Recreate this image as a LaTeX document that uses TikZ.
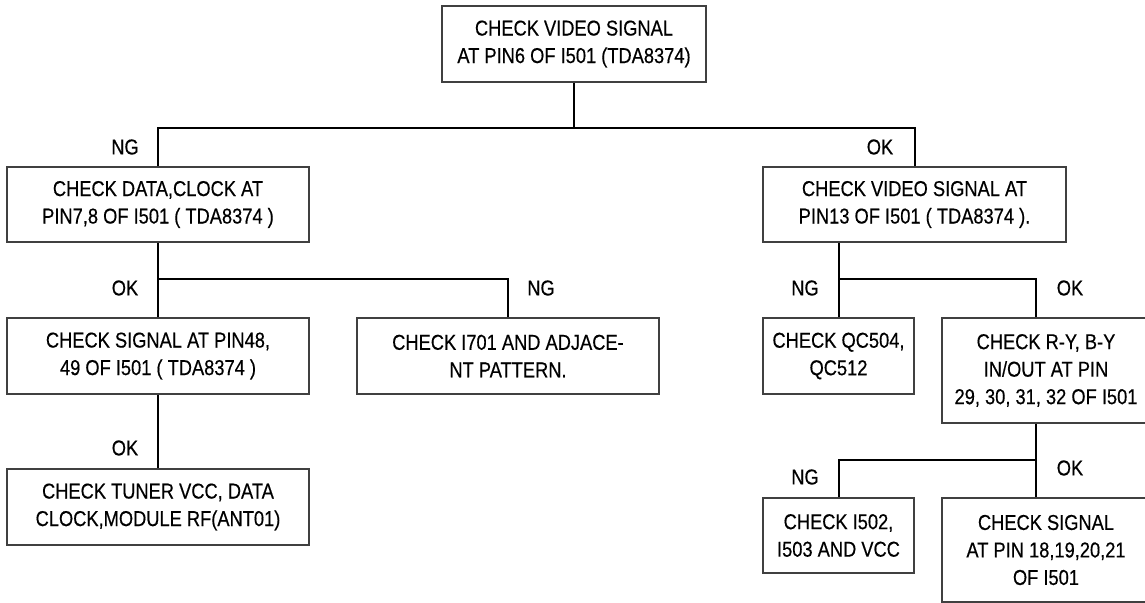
\documentclass[tikz,border=0pt]{standalone}
\usepackage{fontspec}
\setmainfont[FakeStretch=0.85,FakeBold=0.4]{Liberation Sans}
\usetikzlibrary{calc}
\tikzset{
  box/.style={draw=black!75, line width=1.3pt, rectangle, align=center, inner sep=0pt,
    font=\fontsize{21.5}{27.5}\selectfont},
  conn/.style={draw=black, line width=2pt},
  lbl/.style={inner sep=0pt, font=\fontsize{21.5}{25}\selectfont}
}
\begin{document}
\begin{tikzpicture}[x=1pt,y=-1pt]
\useasboundingbox[fill=white] (0,0) rectangle (1145,602);
% boxes
\node[box, minimum width=264pt, minimum height=76pt] (top) at (574,44) {CHECK VIDEO SIGNAL\\AT PIN6 OF I501 (TDA8374)};
\node[box, minimum width=302pt, minimum height=75pt] (b1) at (158,204.5) {CHECK DATA,CLOCK AT\\PIN7,8 OF I501 ( TDA8374 )};
\node[box, minimum width=303pt, minimum height=75pt] (b2) at (914.5,204.5) {CHECK VIDEO SIGNAL AT\\PIN13 OF I501 ( TDA8374 ).};
\node[box, minimum width=302pt, minimum height=76pt] (b3) at (158,356) {CHECK SIGNAL AT PIN48,\\49 OF I501 ( TDA8374 )};
\node[box, minimum width=302pt, minimum height=76pt] (b4) at (508,356) {CHECK I701 AND ADJACE-\\NT PATTERN.};
\node[box, minimum width=151pt, minimum height=76pt] (b5) at (838.5,356) {CHECK QC504,\\QC512};
\node[box, minimum width=208pt, minimum height=105pt] (b6) at (1046,370.5) {CHECK R-Y, B-Y\\IN/OUT AT PIN\\29, 30, 31, 32 OF I501};
\node[box, minimum width=302pt, minimum height=76pt] (b7) at (158,507) {CHECK TUNER VCC, DATA\\CLOCK,MODULE RF(ANT01)};
\node[box, minimum width=151pt, minimum height=75pt] (b8) at (838.5,535.5) {CHECK I502,\\I503 AND VCC};
\node[box, minimum width=208pt, minimum height=104pt] (b9) at (1046,550) {CHECK SIGNAL\\AT PIN 18,19,20,21\\OF I501};
% junctions
\coordinate (j1) at (574,128);
\coordinate (j2) at (158,279);
\coordinate (j3) at (839,279);
\coordinate (j4) at (1037,460);
% connectors
\draw[conn] (top.south) -- (j1);
\draw[conn] (b1.north) |- (j1);
\draw[conn] (b2.north) |- (j1);
\draw[conn] (b1.south) -- (b3.north);
\draw[conn] (j2) -| (b4.north);
\draw[conn] (b3.south) -- (b7.north);
\draw[conn] (b2.south -| j3) -- (b5.north -| j3);
\draw[conn] (j3) -| ($(b6.north west)+(95,0)$);
\draw[conn] ($(b6.south west)+(95,0)$) -- ($(b9.north west)+(95,0)$);
\draw[conn] (j4) -| (b8.north);
% labels
\node[lbl] (l1) at (125,147) {NG};
\node[lbl] (l2) at (880,147) {OK};
\node[lbl] (l3) at (125,288) {OK};
\node[lbl] (l4) at (541,288) {NG};
\node[lbl] (l5) at (805,288) {NG};
\node[lbl] (l6) at (1070,288) {OK};
\node[lbl] (l7) at (125,448) {OK};
\node[lbl] (l8) at (805,477) {NG};
\node[lbl] (l9) at (1070,468) {OK};
\end{tikzpicture}
\end{document}
